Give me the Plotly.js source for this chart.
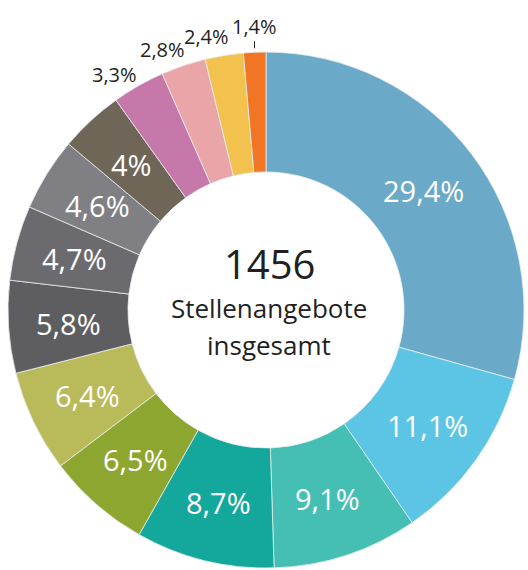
<!DOCTYPE html>
<html><head><meta charset="utf-8">
<script src="https://cdn.plot.ly/plotly-3.0.1.min.js"></script>
<style>html,body{margin:0;padding:0;background:#fff;}#c{width:528px;height:570px;}</style>
</head><body><div id="c"></div>
<script>
const shares = [29.4, 11.1, 9.1, 8.7, 6.5, 6.4, 5.8, 4.7, 4.6, 4, 3.3, 2.8, 2.4, 1.4];
const sliceColors = ['#6aaac8','#5cc5e6','#45bfb4','#14a79c','#8da630','#b9bb5a','#5e5e61','#6b6b6f','#808084','#6f6658','#c678aa','#e9a5a8','#f2c14e','#f07524'];
const totalCount = '1456';
const centerLines = ['Stellenangebote', 'insgesamt'];

const labels = shares.map(v => String(v).replace('.', ',') + '%');
const isSmall = shares.map(v => v < 3.5);

const W = 528, H = 570;
const cx = 266, cy = 310, R = 258, HOLE = 0.535;
const FONT = 'Open Sans, sans-serif';
const DARK = '#231f20';

const trace = {
  type: 'pie',
  values: shares,
  labels: labels,
  textinfo: 'none',
  marker: {colors: sliceColors, line: {color: '#e8eef0', width: 0.8}},
  hole: HOLE,
  sort: false,
  direction: 'clockwise',
  rotation: 0,
  showlegend: false,
  hoverinfo: 'none',
  domain: {x: [(cx - R) / W, (cx + R) / W], y: [1 - (cy + R) / H, 1 - (cy - R) / H]}
};

// slice labels placed at each slice's mid-angle
const total = shares.reduce((a, b) => a + b, 0);
const annotations = [];
const rMid = R * (1 + HOLE) / 2;
let cum = 0;
shares.forEach((v, i) => {
  const mid = (cum + v / 2) / total * 2 * Math.PI;
  cum += v;
  const last = i === shares.length - 1;
  if (!isSmall[i]) {
    const px = cx + rMid * Math.sin(mid), py = cy - rMid * Math.cos(mid);
    annotations.push({text: labels[i], x: px / W, y: 1 - py / H, xref: 'paper', yref: 'paper',
      showarrow: false, xanchor: 'center', yanchor: 'middle',
      font: {family: FONT, size: 29, color: '#ffffff'}});
  } else if (last) {
    const rr = R + 4;
    const px = cx + rr * Math.sin(mid), py = cy - rr * Math.cos(mid);
    annotations.push({text: labels[i], x: px / W, y: 1 - py / H, xref: 'paper', yref: 'paper',
      showarrow: true, arrowhead: 0, arrowwidth: 1, arrowcolor: DARK, ax: 0, ay: -22, standoff: 0,
      font: {family: FONT, size: 20, color: DARK}});
  } else {
    const rr = R + 22;
    const a = mid - 3 * Math.PI / 180;
    const px = cx + rr * Math.sin(a), py = cy - rr * Math.cos(a);
    annotations.push({text: labels[i], x: px / W, y: 1 - py / H, xref: 'paper', yref: 'paper',
      showarrow: false, xanchor: 'center', yanchor: 'middle',
      font: {family: FONT, size: 20, color: DARK}});
  }
});

annotations.push(
  {text: totalCount, x: 269 / W, y: 1 - 263 / H, xref: 'paper', yref: 'paper', showarrow: false,
   font: {family: FONT, size: 40, color: DARK}},
  {text: centerLines[0], x: 269 / W, y: 1 - 308 / H, xref: 'paper', yref: 'paper', showarrow: false,
   font: {family: FONT, size: 26, color: DARK}},
  {text: centerLines[1], x: 269 / W, y: 1 - 345 / H, xref: 'paper', yref: 'paper', showarrow: false,
   font: {family: FONT, size: 26, color: DARK}}
);

const layout = {
  width: W, height: H,
  margin: {l: 0, r: 0, t: 0, b: 0},
  paper_bgcolor: '#ffffff',
  showlegend: false,
  annotations: annotations
};

Plotly.newPlot('c', [trace], layout, {displayModeBar: false, staticPlot: true});
</script>
</body></html>
